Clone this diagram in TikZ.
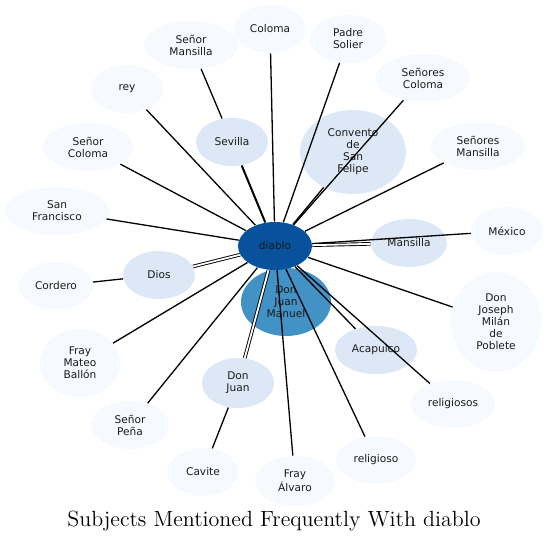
\documentclass[tikz,border=0pt]{standalone}
\usepackage{fontspec}
\newfontfamily\labelfont{DejaVu Sans}
\usetikzlibrary{shapes.geometric}
\definecolor{ink}{HTML}{1A1A1A}
\definecolor{blue0}{HTML}{F6FAFF}
\definecolor{blue1}{HTML}{DCE8F5}
\definecolor{blue2}{HTML}{4292C6}
\definecolor{blue3}{HTML}{08519C}
\tikzset{
  ent/.style={ellipse,fill=blue0,draw=none,inner sep=0pt,align=center,text=ink,
    font=\labelfont\fontsize{5.3}{6}\selectfont,minimum width=36pt,minimum height=24pt},
  ent1/.style={ent,fill=blue1},
  ent2/.style={ent,fill=blue2},
  ent3/.style={ent,fill=blue3},
  edge/.style={draw=black,line width=0.65pt},
  edgeb/.style={draw=black,line width=1pt},
  edge2/.style={draw=black,line width=0.45pt,double=white,double distance=0.9pt},
  title/.style={font=\fontsize{11}{13}\selectfont,text=black},
}

\begin{document}
\begin{tikzpicture}[x=0.5pt,y=-0.5pt]
  \useasboundingbox (0,0) rectangle (548,542);
  % nodes
  \node[ent2,minimum width=45pt,minimum height=34pt] (juanmanuel) at (286,302) {Don\\Juan\\Manuel};
  \node[ent3,minimum width=37pt] (diablo) at (275,246) {diablo};
  \node[ent1] (sevilla) at (232,142) {Sevilla};
  \node[ent1,minimum width=53pt,minimum height=42pt] (convento) at (353,152) {Convento\\de\\San\\Felipe};
  \node[ent1,minimum width=38pt] (mansilla) at (409,243) {Mansilla};
  \node[ent1] (dios) at (159,275) {Dios};
  \node[ent1,minimum width=41pt] (acapulco) at (376,350) {Acapulco};
  \node[ent1,minimum height=25pt] (donjuan) at (238,383) {Don\\Juan};
  \node[ent] (coloma) at (270,29) {Coloma};
  \node[ent,minimum width=47pt] (srmansilla) at (191,45) {Señor\\Mansilla};
  \node[ent,minimum width=38pt] (solier) at (348,39) {Padre\\Solier};
  \node[ent] (rey) at (127,89) {rey};
  \node[ent,minimum width=47pt] (srscoloma) at (423,78) {Señores\\Coloma};
  \node[ent,minimum width=45pt] (srcoloma) at (88,147) {Señor\\Coloma};
  \node[ent,minimum width=47pt] (srsmansilla) at (478,146) {Señores\\Mansilla};
  \node[ent,minimum width=52pt] (sanfco) at (57,211) {San\\Francisco};
  \node[ent] (mexico) at (507,231) {México};
  \node[ent,minimum width=37pt] (cordero) at (56,286) {Cordero};
  \node[ent,minimum width=45pt,minimum height=50pt] (poblete) at (496,322) {Don\\Joseph\\Milán\\de\\Poblete};
  \node[ent,minimum width=40pt,minimum height=34pt] (ballon) at (80,363) {Fray\\Mateo\\Ballón};
  \node[ent,minimum width=42pt] (religiosos) at (453,404) {religiosos};
  \node[ent,minimum width=39pt] (pena) at (130,425) {Señor\\Peña};
  \node[ent,minimum width=40pt] (religioso) at (376,460) {religioso};
  \node[ent] (cavite) at (203,472) {Cavite};
  \node[ent,minimum width=40pt,minimum height=25pt] (alvaro) at (295,481) {Fray\\Álvaro};
  % edges
  \foreach \n in {coloma,solier,srscoloma,convento,srsmansilla,mexico,poblete,acapulco,
    religiosos,religioso,alvaro,pena,ballon,sanfco,srcoloma,rey}
    \draw[edge] (diablo) -- (\n);
  \foreach \n in {mansilla,dios,donjuan}
    \draw[edge2] (diablo) -- (\n);
  \draw[edgeb] (diablo) -- (sevilla);
  \draw[edge] (sevilla) -- (srmansilla);
  \draw[edge] (dios) -- (cordero);
  \draw[edge] (donjuan) -- (cavite);
  \node[title] (caption) at (274,521) {Subjects Mentioned Frequently With diablo};
\end{tikzpicture}
\end{document}
